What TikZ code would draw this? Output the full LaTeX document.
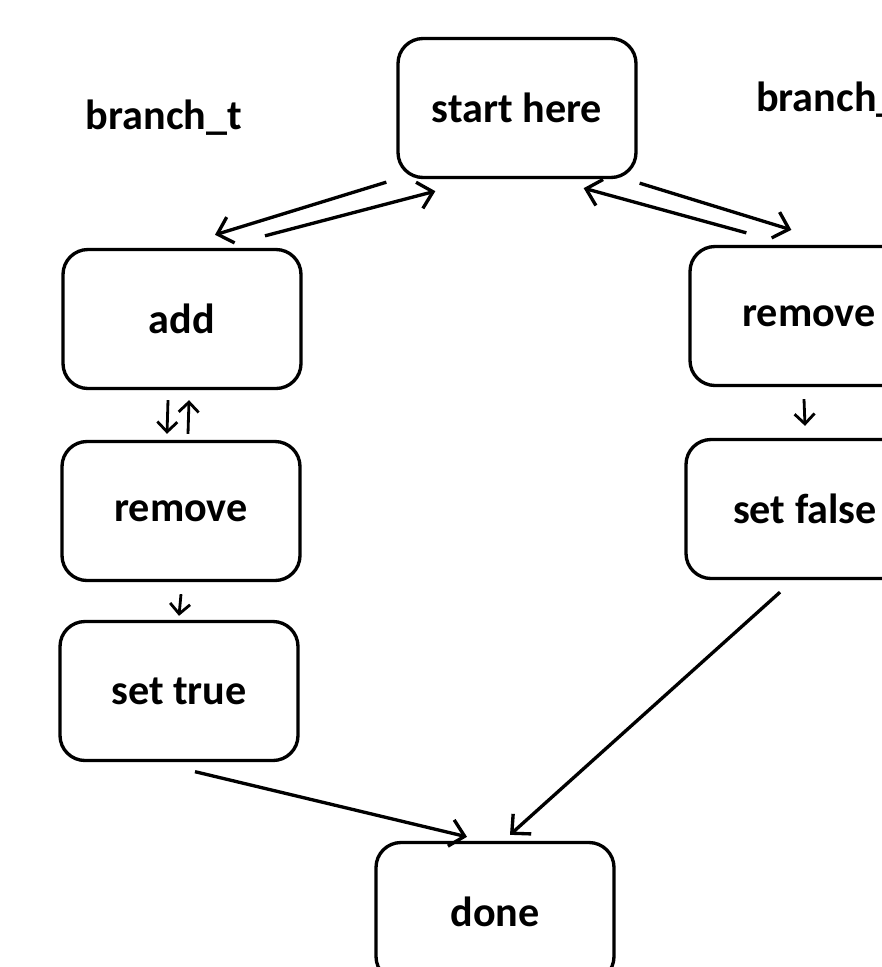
\documentclass[tikz,border=0pt]{standalone}
\usepackage{fontspec}
\setmainfont{Carlito}
\usepackage{tikz}
\usetikzlibrary{arrows.meta}

\begin{document}
\begin{tikzpicture}[every node/.style={font=\fontsize{24}{28}\selectfont\bfseries},
  state/.style={draw, line width=1.9pt, rounded corners=0.5cm, minimum width=4.76cm,
    minimum height=2.78cm, align=center},
  flow/.style={-{Straight Barb[length=2.8mm,width=5.4mm]}, line width=1.9pt},
  hop/.style={-{Straight Barb[length=2mm,width=4mm]}, line width=1.6pt}]
  \clip (0,0) rectangle (17.64,-19.34);
  \node[state] (start) at (10.34,-2.16) {start here};
  \node[state] (add) at (3.64,-6.38) {add};
  \node[state] (remt) at (3.62,-10.22) {remove};
  \node[state] (settrue) at (3.58,-13.82) {set true};
  \node[state] (remf) at (16.18,-6.32) {remove};
  \node[state] (setfalse) at (16.10,-10.18) {set false};
  \node[state] (done) at (9.90,-18.24) {done};
  \node (brt) at (3.28,-2.36) {branch\_t};
  \node[anchor=west] (brf) at (15.0,-2.0) {branch\_f};
  % the two branches
  \draw[flow] ([shift={(-0.2,-0.06)}]start.south west) -- ([shift={(0.66,0.26)}]add.north);
  \draw[flow] ([shift={(1.66,0.24)}]add.north) -- ([shift={(0.78,-0.24)}]start.south west);
  \draw[flow] ([shift={(1.16,0.24)}]remf.north west) -- ([shift={(-1.08,-0.18)}]start.south east);
  \draw[flow] ([shift={(0.04,-0.08)}]start.south east) -- ([shift={(2.06,0.30)}]remf.north west);
  % steps inside a branch
  \draw[hop] ([shift={(-0.28,-0.2)}]add.south) -- ([shift={(-0.28,0.12)}]remt.north);
  \draw[hop] ([shift={(0.14,0.12)}]remt.north) -- ([shift={(0.14,-0.2)}]add.south);
  \draw[hop] ([yshift=-0.24cm]remt.south) -- ([yshift=0.08cm]settrue.north);
  \draw[hop] ([shift={(-0.1,-0.24)}]remf.south) -- ([shift={(0,0.24)}]setfalse.north);
  % back together
  \draw[flow] ([shift={(0.32,-0.19)}]settrue.south) -- ([shift={(-0.56,0.08)}]done.north);
  \draw[flow] ([shift={(-0.5,-0.24)}]setfalse.south) -- ([shift={(0.3,0.12)}]done.north);
\end{tikzpicture}
\end{document}
